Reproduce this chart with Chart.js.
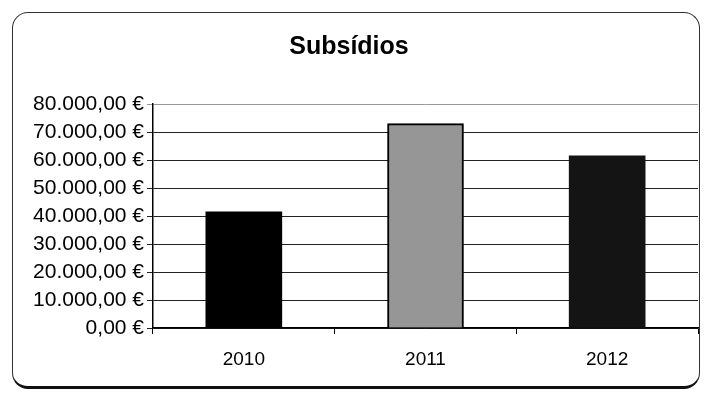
<!DOCTYPE html>
<html>
<head>
<meta charset="utf-8">
<script src="https://cdn.jsdelivr.net/npm/chart.js@4"></script>
<style>
  html, body { margin: 0; padding: 0; background: #fff; }
  #wrap { position: relative; width: 707px; height: 396px; }
  #frame {
    position: absolute; left: 12px; top: 12px; width: 686px; height: 373px;
    border: 1.5px solid #333; border-bottom: 3px solid #111; border-radius: 16px;
  }
  canvas { position: absolute; left: 0; top: 0; }
</style>
</head>
<body>
<div id="wrap">
  <div id="frame"></div>
  <canvas id="chart" width="707" height="396"></canvas>
</div>
<script>
// Subsídios por ano
const years = ['2010', '2011', '2012'];
const amounts = [41500, 73000, 61500];
const colors = ['#000000', '#969696', '#141414'];

function euro(v) {
  const parts = v.toFixed(2).split('.');
  const int = parts[0].replace(/\B(?=(\d{3})+(?!\d))/g, '.');
  return int + ',' + parts[1] + ' €';
}

Chart.defaults.font.family = '"Liberation Sans", Arial, sans-serif';
Chart.defaults.color = '#000';

new Chart(document.getElementById('chart'), {
  type: 'bar',
  data: {
    labels: years,
    datasets: [{
      data: amounts,
      backgroundColor: colors,
      borderColor: '#000',
      borderWidth: [0, 2, 0],
      barThickness: 76
    }]
  },
  options: {
    responsive: false,
    animation: false,
    layout: { padding: { left: 0, right: 9, top: 0, bottom: 0 } },
    plugins: {
      legend: { display: false },
      tooltip: { enabled: false },
      title: {
        display: true,
        text: 'Subsídios',
        font: { size: 25, weight: 'bold' },
        padding: { top: 32, bottom: 42 }
      }
    },
    scales: {
      x: {
        afterFit: s => { s.height = 68; },
        grid: { drawOnChartArea: false, color: '#000', tickLength: 6 },
        border: { color: '#000', width: 1.5 },
        ticks: { font: { size: 19 }, padding: 14 }
      },
      y: {
        min: 0,
        max: 80000,
        afterFit: s => { s.width = 153; },
        grid: {
          color: c => (c.tick && c.tick.value === 80000) ? '#999' : '#222',
          lineWidth: 1,
          tickLength: 6
        },
        border: { color: '#000', width: 1.5 },
        ticks: {
          stepSize: 10000,
          autoSkip: false,
          font: { size: 21 },
          padding: 3,
          callback: v => euro(v)
        }
      }
    }
  }
});
</script>
</body>
</html>
